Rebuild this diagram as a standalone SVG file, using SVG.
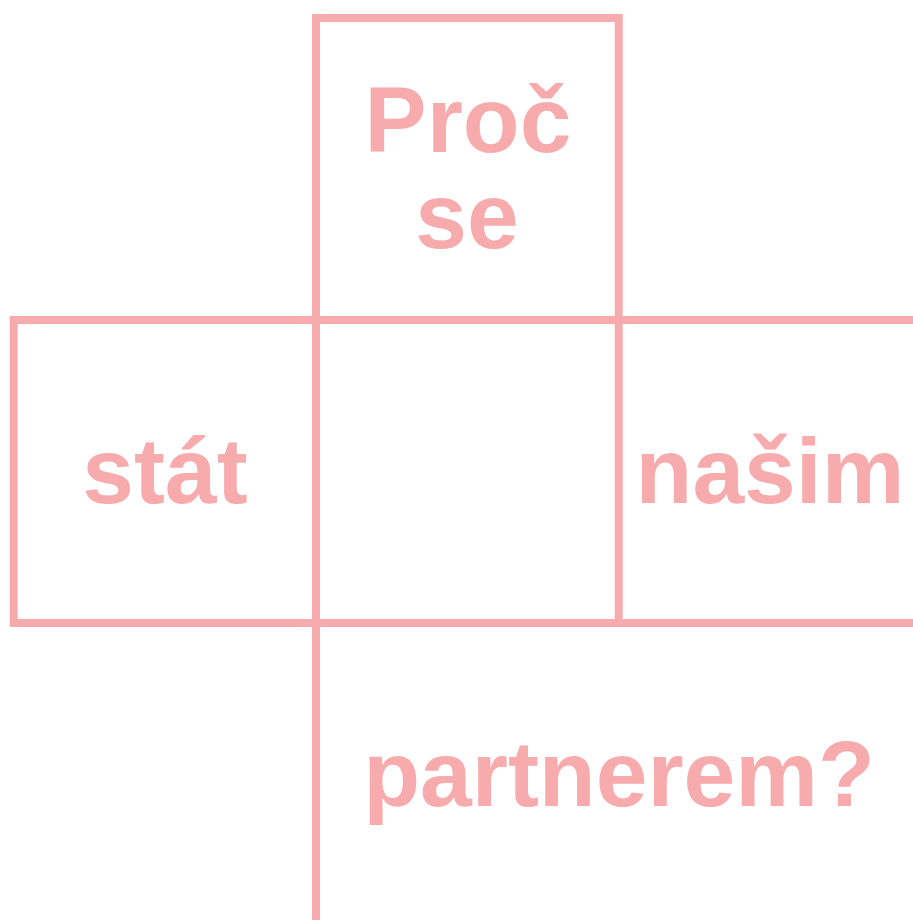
<svg xmlns="http://www.w3.org/2000/svg" width="913" height="920" viewBox="0 0 913 920">
<style>
.ln{stroke:#F7ABAD;stroke-width:8;fill:none;stroke-linecap:square}
.t{fill:#F7ABAD;font-family:"Liberation Sans",Arial,sans-serif;font-weight:bold;font-size:93px;text-anchor:middle}
</style>
<rect width="913" height="920" fill="#fff"/>
<g id="connectors">
<path class="ln" d="M316,320 V18 H618.7 V320"/>
<path class="ln" d="M13.7,320 H913 M13.7,623 H913 M13.7,320 V623 M316,320 V920 M618.7,320 V623"/>
</g>
<g id="n1"><text class="t" x="468" y="152">Proč</text><text class="t" x="467" y="248">se</text></g>
<g id="n2"><text class="t" x="165" y="503">stát</text></g>
<g id="n3"><text class="t" x="770" y="503">našim</text></g>
<g id="n4"><text class="t" x="619" y="806">partnerem?</text></g>
</svg>
